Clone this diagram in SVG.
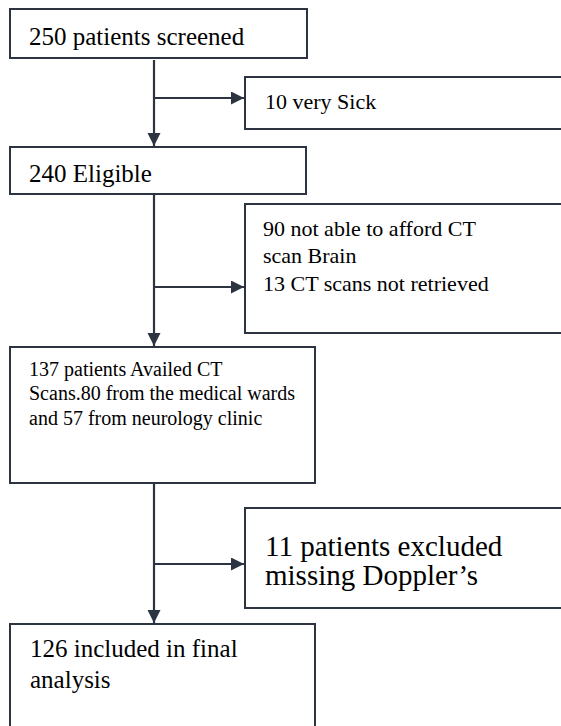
<svg xmlns="http://www.w3.org/2000/svg" width="561" height="726" viewBox="0 0 561 726">
<defs>
<marker id="ah" markerUnits="userSpaceOnUse" markerWidth="14" markerHeight="14" refX="13" refY="6.5" orient="auto">
<path d="M0,0 L13,6.5 L0,13 Z" fill="#2c3442"/>
</marker>
</defs>
<rect width="561" height="726" fill="#ffffff"/>
<g id="connectors" fill="none" stroke="#2c3442" stroke-width="2.2">
<line x1="154" y1="60" x2="154" y2="146" marker-end="url(#ah)"/>
<line x1="154" y1="98" x2="244" y2="98" marker-end="url(#ah)"/>
<line x1="154" y1="195" x2="154" y2="346" marker-end="url(#ah)"/>
<line x1="154" y1="287" x2="244" y2="287" marker-end="url(#ah)"/>
<line x1="154" y1="484" x2="154" y2="623" marker-end="url(#ah)"/>
<line x1="154" y1="564" x2="244" y2="564" marker-end="url(#ah)"/>
</g>
<g id="n1">
<rect x="10" y="9" width="297" height="49" fill="#ffffff" stroke="#2c3442" stroke-width="2"/>
<text x="29" y="45" font-size="25" font-family="Times New Roman">250 patients screened</text>
</g>
<g id="n2">
<rect x="245" y="77" width="330" height="52" fill="#ffffff" stroke="#2c3442" stroke-width="2"/>
<text x="265" y="109" font-size="22" font-family="Times New Roman">10 very Sick</text>
</g>
<g id="n3">
<rect x="10" y="147" width="296" height="47" fill="#ffffff" stroke="#2c3442" stroke-width="2"/>
<text x="29" y="182" font-size="25" font-family="Times New Roman">240 Eligible</text>
</g>
<g id="n4">
<rect x="245" y="204" width="330" height="129" fill="#ffffff" stroke="#2c3442" stroke-width="2"/>
<text x="263" y="236" font-size="22" font-family="Times New Roman">90 not able to afford CT</text>
<text x="263" y="263" font-size="22" font-family="Times New Roman">scan Brain</text>
<text x="263" y="291" font-size="22" font-family="Times New Roman">13 CT scans not retrieved</text>
</g>
<g id="n5">
<rect x="10" y="347" width="305" height="136" fill="#ffffff" stroke="#2c3442" stroke-width="2"/>
<text x="29" y="376" font-size="20" font-family="Times New Roman">137 patients Availed CT</text>
<text x="29" y="400" font-size="20" font-family="Times New Roman">Scans.80 from the medical wards</text>
<text x="29" y="425" font-size="20" font-family="Times New Roman">and 57 from neurology clinic</text>
</g>
<g id="n6">
<rect x="245" y="508" width="330" height="100" fill="#ffffff" stroke="#2c3442" stroke-width="2"/>
<text x="265" y="556" font-size="29" font-family="Times New Roman">11 patients excluded</text>
<text x="265" y="585" font-size="29" font-family="Times New Roman">missing Doppler’s</text>
</g>
<g id="n7">
<rect x="10" y="624" width="305" height="120" fill="#ffffff" stroke="#2c3442" stroke-width="2"/>
<text x="30" y="657" font-size="25" font-family="Times New Roman">126 included in final</text>
<text x="30" y="688" font-size="25" font-family="Times New Roman">analysis</text>
</g>
</svg>
